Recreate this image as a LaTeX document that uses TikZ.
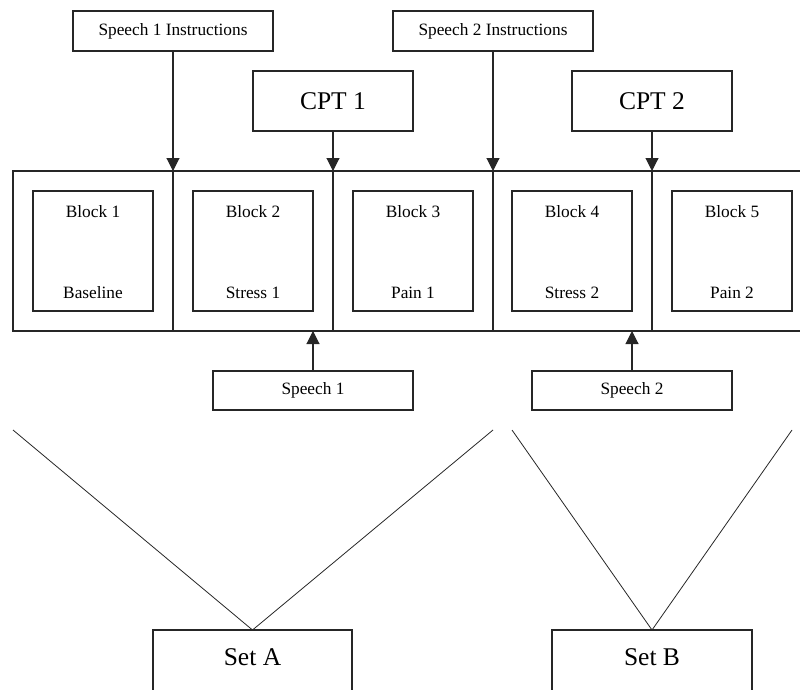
\documentclass[tikz,border=0pt]{standalone}
\usepackage{fontspec}
\setmainfont{Liberation Serif}
\usetikzlibrary{arrows.meta}
\begin{document}
\begin{tikzpicture}[x=1pt,y=-1pt,
  box/.style={draw=black!85,line width=1.1pt,inner sep=0pt,outer sep=0pt},
  smalltxt/.style={font=\fontsize{17.3}{20}\selectfont},
  bigtxt/.style={font=\fontsize{25.5}{30}\selectfont},
  cell/.style={box,minimum width=160pt,minimum height=160pt},
  inner/.style={box,minimum width=120pt,minimum height=120pt},
  arr/.style={draw=black!85,line width=1.1pt,-{Triangle[width=13pt,length=13pt]}},
  diag/.style={draw=black!85,line width=0.8pt}]
\useasboundingbox (0,0) rectangle (800,690);
% top boxes
\node[box,smalltxt,minimum width=200pt,minimum height=40pt] (si1) at (173,31) {Speech 1 Instructions};
\node[box,smalltxt,minimum width=200pt,minimum height=40pt] (si2) at (493,31) {Speech 2 Instructions};
\node[box,bigtxt,minimum width=160pt,minimum height=60pt] (cpt1) at (333,101) {CPT 1};
\node[box,bigtxt,minimum width=160pt,minimum height=60pt] (cpt2) at (652,101) {CPT 2};
% cells
\node[cell] (c1) at (93,251) {};
\node[cell] (c2) at (253,251) {};
\node[cell] (c3) at (413,251) {};
\node[cell,minimum width=159pt] (c4) at (572.5,251) {};
\node[cell] (c5) at (732,251) {};
% inner blocks
\foreach \i/\x/\a/\b in {1/93/Block 1/Baseline,2/253/Block 2/Stress 1,3/413/Block 3/Pain 1,4/572/Block 4/Stress 2,5/732/Block 5/Pain 2}{
  \node[inner] (b\i) at (\x,251) {};
  \node[smalltxt,anchor=base] (b\i t) at (\x,217) {\a};
  \node[smalltxt,anchor=base] (b\i b) at (\x,298) {\b};
}
% speech boxes
\node[box,smalltxt,minimum width=200pt,minimum height=39pt] (sp1) at (313,390.5) {Speech 1};
\node[box,smalltxt,minimum width=200pt,minimum height=39pt] (sp2) at (632,390.5) {Speech 2};
% set boxes (open at bottom edge)
\node[box,minimum width=199pt,minimum height=80pt] (setA) at (252.5,670) {};
\node[bigtxt,anchor=base] (setAt) at (252.5,665) {Set A};
\node[box,minimum width=200pt,minimum height=80pt] (setB) at (652,670) {};
\node[bigtxt,anchor=base] (setBt) at (652,665) {Set B};
% arrows
\draw[arr] (si1.south) -- (c2.north west);
\draw[arr] (cpt1.south) -- (c3.north west);
\draw[arr] (si2.south) -- (si2.south |- c4.north);
\draw[arr] (cpt2.south) -- (c5.north west);
\draw[arr] (sp1.north) -- (sp1.north |- c2.south);
\draw[arr] (sp2.north) -- (sp2.north |- c4.south);
% diagonal lines
\coordinate (a1) at (13,430);
\coordinate (a2) at (493,430);
\coordinate (d1) at (512,430);
\coordinate (d2) at (792,430);
\draw[diag] (a1) -- (setA.north) -- (a2);
\draw[diag] (d1) -- (setB.north) -- (d2);
\end{tikzpicture}
\end{document}
